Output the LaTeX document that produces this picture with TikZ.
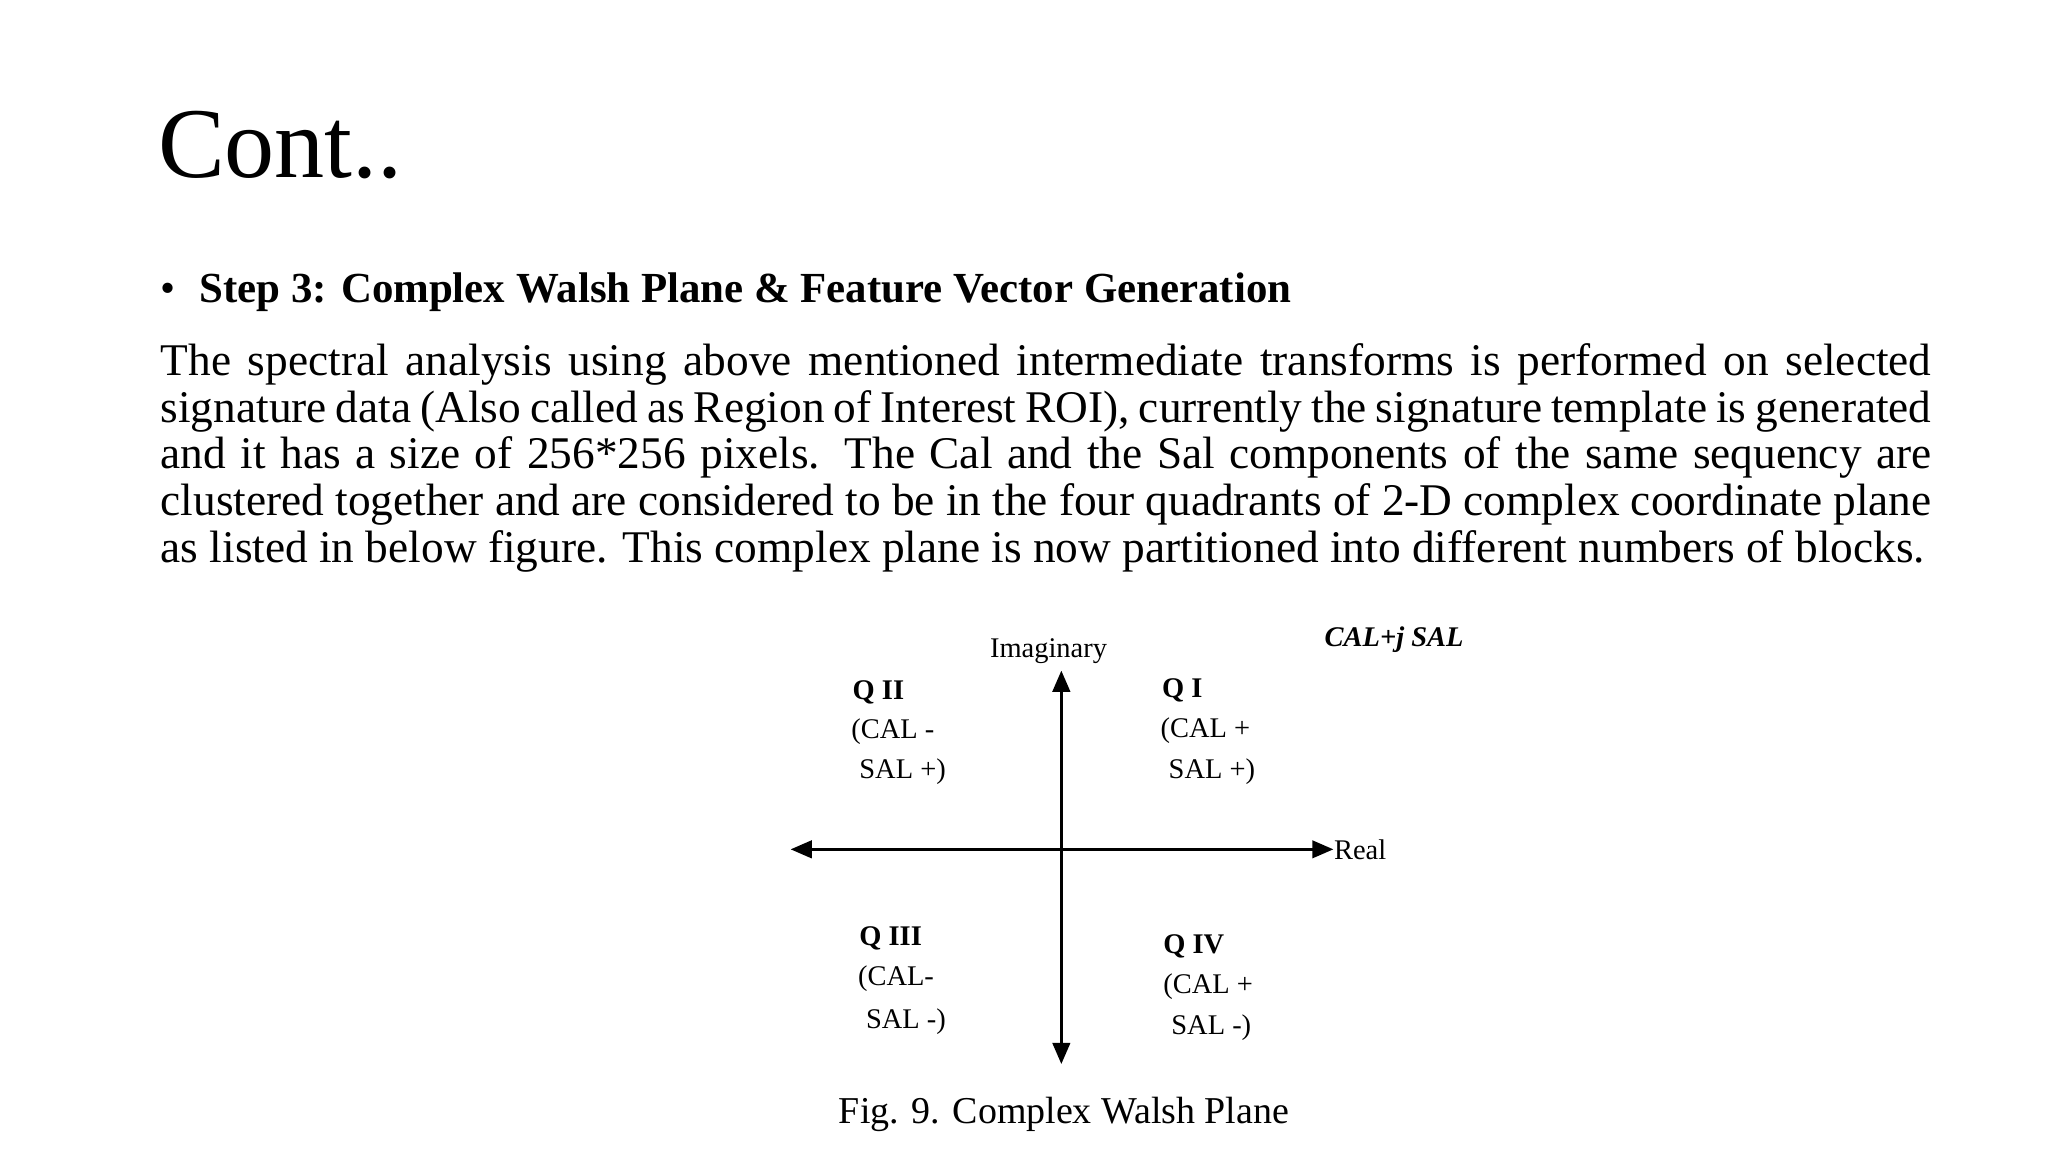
\documentclass[tikz,border=0pt]{standalone}
\usepackage{fontspec}
\setmainfont{Liberation Serif}
\usetikzlibrary{arrows.meta}
\begin{document}
\begin{tikzpicture}[x=0.013333cm,y=-0.013333cm,
  lbl/.style={font=\fontsize{8.1}{9}\selectfont,anchor=west,inner sep=0},
  lblb/.style={font=\fontsize{8.1}{9}\selectfont\bfseries,anchor=west,inner sep=0},
  ax/.style={line width=0.7pt,-{Triangle[length=6pt,width=5pt]}}]
\useasboundingbox (0,0) rectangle (1536,864);
\node[anchor=base west,inner sep=0,font=\fontsize{28.5}{29}\selectfont] (title) at (118,133) {Cont..};
\node[anchor=base west,inner sep=0,font=\fontsize{12.2}{13}\selectfont] (bul) at (120,227) {•};
\node[anchor=base west,inner sep=0,font=\fontsize{12.2}{13}\selectfont\bfseries] (head) at (149,227) {Step 3: Complex Walsh Plane \& Feature Vector Generation};
\node[anchor=north west,inner sep=0,text width=17.71cm,align=justify,font=\fontsize{12.9}{13.3}\selectfont] (body) at (120,257) {The spectral analysis using above mentioned intermediate transforms is performed on selected signature data (Also called as Region of Interest ROI), currently the signature template is generated and it has a size of 256*256 pixels. The Cal and the Sal components of the same sequency are clustered together and are considered to be in the four quadrants of 2-D complex coordinate plane as listed in below figure. This complex plane is now partitioned into different numbers of blocks.};
\coordinate (o) at (796,637);
\coordinate (l) at (593,637);
\coordinate (r) at (1000,637);
\coordinate (t) at (796,503);
\coordinate (b) at (796,798);
\draw[ax] (o) -- (l);
\draw[ax] (o) -- (r);
\draw[ax] (o) -- (t);
\draw[ax] (o) -- (b);
\node[lbl] (im) at (742,488) {Imaginary};
\node[lbl] (re) at (1000,637) {Real};
\node[lbl,font=\fontsize{8.1}{9}\selectfont\bfseries\itshape] (cs) at (993,480) {CAL+j SAL};
\node[lblb] (q2) at (639,519) {Q II};
\node[lbl] (q2a) at (638,549) {(CAL -};
\node[lbl] (q2b) at (644,579) {SAL +)};
\node[lblb] (q1) at (871,518) {Q I};
\node[lbl] (q1a) at (870,548) {(CAL +};
\node[lbl] (q1b) at (876,579) {SAL +)};
\node[lblb] (q3) at (644,704) {Q III};
\node[lbl] (q3a) at (643,734) {(CAL-};
\node[lbl] (q3b) at (649,766) {SAL -)};
\node[lblb] (q4) at (872,710) {Q IV};
\node[lbl] (q4a) at (872,740) {(CAL +};
\node[lbl] (q4b) at (878,771) {SAL -)};
\node[anchor=center,inner sep=0,font=\fontsize{10.8}{12}\selectfont] (cap) at (798,836) {Fig. 9. Complex Walsh Plane};
\end{tikzpicture}
\end{document}
